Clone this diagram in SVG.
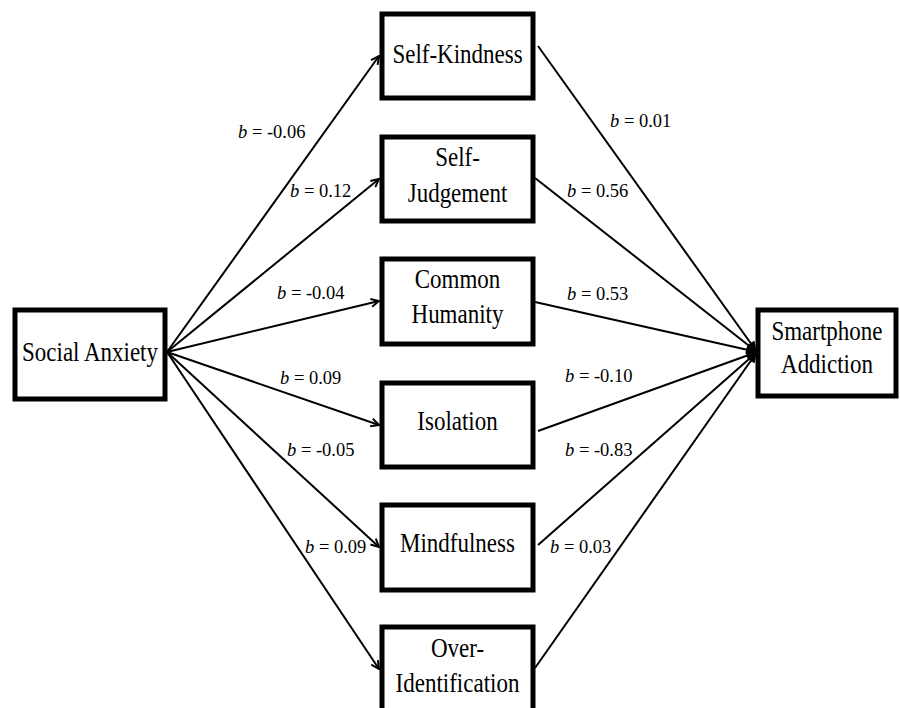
<svg xmlns="http://www.w3.org/2000/svg" width="900" height="708" viewBox="0 0 900 708">
<defs>
<style>
.box{fill:#fff;stroke:#000;stroke-width:5}
.bt{font-family:"Liberation Serif","Times New Roman",serif;font-size:23px;fill:#000;text-anchor:middle}
.lb{font-family:"Liberation Serif","Times New Roman",serif;font-size:18.5px;fill:#000}
.lb tspan.i{font-style:italic}
.ln{stroke:#000;stroke-width:2;fill:none}
</style>
<marker id="open" viewBox="0 0 10 10" refX="9" refY="5" markerWidth="10" markerHeight="10" markerUnits="userSpaceOnUse" orient="auto">
<path d="M1,1 L9,5 L1,9" fill="none" stroke="#000" stroke-width="2"/>
</marker>
<marker id="solid" viewBox="0 0 12 10" refX="12" refY="5" markerWidth="12" markerHeight="9" markerUnits="userSpaceOnUse" orient="auto">
<path d="M0,0 L12,5 L0,10 Z" fill="#000"/>
</marker>
</defs>
<rect width="900" height="708" fill="#fff"/>
<g id="connectors">
<line class="ln" x1="167" y1="352" x2="379" y2="56" marker-end="url(#open)"/>
<line class="ln" x1="167" y1="352" x2="379" y2="179" marker-end="url(#open)"/>
<line class="ln" x1="167" y1="352" x2="379" y2="301" marker-end="url(#open)"/>
<line class="ln" x1="167" y1="352" x2="379" y2="425" marker-end="url(#open)"/>
<line class="ln" x1="167" y1="352" x2="379" y2="547" marker-end="url(#open)"/>
<line class="ln" x1="167" y1="352" x2="379" y2="669" marker-end="url(#open)"/>
<line class="ln" x1="538" y1="46" x2="757" y2="352" marker-end="url(#solid)"/>
<line class="ln" x1="535" y1="178" x2="757" y2="352" marker-end="url(#solid)"/>
<line class="ln" x1="535" y1="302" x2="757" y2="352" marker-end="url(#solid)"/>
<line class="ln" x1="538" y1="431" x2="757" y2="352" marker-end="url(#solid)"/>
<line class="ln" x1="538" y1="545" x2="757" y2="352" marker-end="url(#solid)"/>
<line class="ln" x1="535" y1="668" x2="757" y2="352" marker-end="url(#solid)"/>
</g>
<g id="labels">
<text class="lb" x="238" y="138"><tspan class="i">b</tspan> = -0.06</text>
<text class="lb" x="290" y="197"><tspan class="i">b</tspan> = 0.12</text>
<text class="lb" x="277" y="299"><tspan class="i">b</tspan> = -0.04</text>
<text class="lb" x="280" y="384"><tspan class="i">b</tspan> = 0.09</text>
<text class="lb" x="287" y="456"><tspan class="i">b</tspan> = -0.05</text>
<text class="lb" x="305" y="553"><tspan class="i">b</tspan> = 0.09</text>
<text class="lb" x="610" y="127"><tspan class="i">b</tspan> = 0.01</text>
<text class="lb" x="567" y="197"><tspan class="i">b</tspan> = 0.56</text>
<text class="lb" x="567" y="300"><tspan class="i">b</tspan> = 0.53</text>
<text class="lb" x="565" y="382"><tspan class="i">b</tspan> = -0.10</text>
<text class="lb" x="565" y="456"><tspan class="i">b</tspan> = -0.83</text>
<text class="lb" x="550" y="553"><tspan class="i">b</tspan> = 0.03</text>
</g>
<g id="social-anxiety">
<rect class="box" x="15" y="310" width="150" height="89"/>
<text class="bt" transform="translate(90,361) scale(1,1.15)">Social Anxiety</text>
</g>
<g id="self-kindness">
<rect class="box" x="382" y="14" width="151" height="84"/>
<text class="bt" transform="translate(457.5,63) scale(1,1.15)">Self-Kindness</text>
</g>
<g id="self-judgement">
<rect class="box" x="382" y="137" width="151" height="84"/>
<text class="bt" transform="translate(457.5,166) scale(1,1.15)">Self-</text>
<text class="bt" transform="translate(457.5,202) scale(1,1.15)">Judgement</text>
</g>
<g id="common-humanity">
<rect class="box" x="382" y="259" width="151" height="85"/>
<text class="bt" transform="translate(457.5,288) scale(1,1.15)">Common</text>
<text class="bt" transform="translate(457.5,323) scale(1,1.15)">Humanity</text>
</g>
<g id="isolation">
<rect class="box" x="382" y="383" width="151" height="84"/>
<text class="bt" transform="translate(457.5,430) scale(1,1.15)">Isolation</text>
</g>
<g id="mindfulness">
<rect class="box" x="382" y="505" width="151" height="85"/>
<text class="bt" transform="translate(457.5,552) scale(1,1.15)">Mindfulness</text>
</g>
<g id="over-identification">
<rect class="box" x="382" y="627" width="151" height="90"/>
<text class="bt" transform="translate(457.5,657) scale(1,1.15)">Over-</text>
<text class="bt" transform="translate(457.5,692) scale(1,1.15)">Identification</text>
</g>
<g id="smartphone-addiction">
<rect class="box" x="758" y="310" width="138" height="86"/>
<text class="bt" transform="translate(827,340) scale(1,1.15)">Smartphone</text>
<text class="bt" transform="translate(827,373) scale(1,1.15)">Addiction</text>
</g>
</svg>
